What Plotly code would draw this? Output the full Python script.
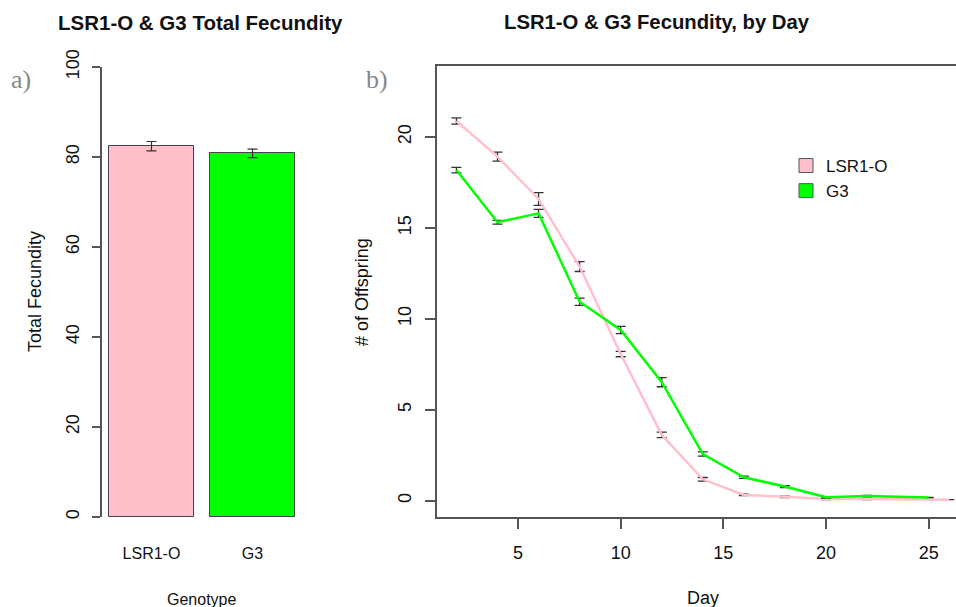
import plotly.graph_objects as go

# ---- data: panel a ----
genotypes = ["LSR1-O", "G3"]
total_fecundity = [82.4, 80.8]
total_se = [1.04, 0.93]
bar_colors = ["#FFC0CB", "#00FF00"]

# ---- data: panel b ----
days_lsr = [2, 4, 6, 8, 10, 12, 14, 16, 18, 20, 22, 24, 26]
lsr_offspring = [20.88, 18.92, 16.59, 12.87, 8.06, 3.61, 1.17, 0.31, 0.21, 0.08, 0.08, 0.07, 0.05]
lsr_se = [0.17, 0.25, 0.35, 0.27, 0.15, 0.15, 0.1, 0.04, 0.04, 0.03, 0.03, 0.0, 0.0]

days_g3 = [2, 4, 6, 8, 10, 12, 14, 16, 18, 20, 22, 24, 25]
g3_offspring = [18.18, 15.31, 15.8, 10.94, 9.38, 6.51, 2.56, 1.28, 0.77, 0.18, 0.25, 0.2, 0.17]
g3_se = [0.15, 0.1, 0.22, 0.2, 0.2, 0.25, 0.12, 0.06, 0.05, 0.04, 0.04, 0.0, 0.0]

x_ticks_b = [5, 10, 15, 20, 25]
y_ticks_b = [0, 5, 10, 15, 20]
y_ticks_a = [0, 20, 40, 60, 80, 100]

W, H = 956, 607
FONT = "Liberation Sans, Arial, sans-serif"
AXC = "#555555"

def px_x(p):
    return p / W

def px_y(p):
    return (H - p) / H

fig = go.Figure()

# panel a bars
fig.add_trace(go.Bar(
    x=genotypes, y=total_fecundity,
    marker=dict(color=bar_colors, line=dict(color="#444444", width=1)),
    width=1 / 1.2,
    error_y=dict(type="data", array=total_se, color="#333333", thickness=1.2, width=5),
    xaxis="x", yaxis="y", showlegend=False,
))

# panel b lines
fig.add_trace(go.Scatter(
    x=days_lsr, y=lsr_offspring, mode="lines",
    line=dict(color="#FFC0CB", width=2.5),
    error_y=dict(type="data", array=lsr_se, color="#333333", thickness=1.3, width=5),
    xaxis="x2", yaxis="y2", showlegend=False,
))
fig.add_trace(go.Scatter(
    x=days_g3, y=g3_offspring, mode="lines",
    line=dict(color="#00FF00", width=2.5),
    error_y=dict(type="data", array=g3_se, color="#333333", thickness=1.3, width=5),
    xaxis="x2", yaxis="y2", showlegend=False,
))

# legend entries (filled squares)
for name, col in zip(genotypes, bar_colors):
    fig.add_trace(go.Scatter(
        x=[None], y=[None], mode="markers", name=name,
        marker=dict(symbol="square", size=14, color=col, line=dict(color="#555555", width=1)),
        xaxis="x2", yaxis="y2", showlegend=True,
    ))

fig.update_layout(
    width=W, height=H,
    margin=dict(l=0, r=0, t=0, b=0, autoexpand=False),
    paper_bgcolor="white", plot_bgcolor="white",
    font=dict(family=FONT, color="#111111", size=16),
    bargap=0,
    xaxis=dict(
        domain=[px_x(102), px_x(302)], range=[-0.49, 1.49], automargin=False,
        showline=False, showgrid=False, zeroline=False, ticks="",
        tickfont=dict(size=16), ticklabelstandoff=25,
    ),
    yaxis=dict(
        domain=[px_y(517), px_y(67)], range=[0, 100], automargin=False,
        tickvals=y_ticks_a, showline=True, linecolor=AXC, linewidth=1.5,
        ticks="outside", ticklen=8, tickcolor=AXC, tickwidth=1.5,
        showgrid=False, zeroline=False, tickangle=-90,
        tickfont=dict(size=18), ticklabelstandoff=6,
    ),
    xaxis2=dict(
        domain=[px_x(436.7), 1.0], range=[1.04, 26.33], automargin=False,
        tickvals=x_ticks_b, showline=True, mirror=True, linecolor=AXC, linewidth=1.5,
        ticks="outside", ticklen=10, tickcolor=AXC, tickwidth=1.5,
        showgrid=False, zeroline=False, anchor="y2",
        tickfont=dict(size=18), ticklabelstandoff=8,
    ),
    yaxis2=dict(
        domain=[px_y(517.3), px_y(65.7)], range=[-0.92, 23.92], automargin=False,
        tickvals=y_ticks_b, showline=True, linecolor=AXC, linewidth=1.5,
        ticks="outside", ticklen=10, tickcolor=AXC, tickwidth=1.5,
        showgrid=False, zeroline=False, tickangle=-90, anchor="x2",
        tickfont=dict(size=18), ticklabelstandoff=7,
    ),
    legend=dict(
        x=px_x(786), y=px_y(148), xanchor="left", yanchor="top",
        bgcolor="rgba(0,0,0,0)", font=dict(size=17),
        tracegroupgap=0, itemwidth=30,
    ),
)

ann = [
    dict(text="<b>LSR1-O & G3 Total Fecundity</b>", x=px_x(200), y=px_y(22), size=20.5),
    dict(text="<b>LSR1-O & G3 Fecundity, by Day</b>", x=px_x(657), y=px_y(22), size=20.3),
    dict(text="Genotype", x=px_x(201), y=px_y(599), size=16),
    dict(text="Day", x=px_x(703), y=px_y(598), size=18),
]
for a in ann:
    fig.add_annotation(text=a["text"], x=a["x"], y=a["y"], xref="paper", yref="paper",
                       xanchor="center", yanchor="middle", showarrow=False,
                       font=dict(size=a["size"], family=FONT, color="#111111"))

fig.add_annotation(text="Total Fecundity", x=px_x(35), y=px_y(292), xref="paper", yref="paper",
                   xanchor="center", yanchor="middle", showarrow=False, textangle=-90,
                   font=dict(size=18, family=FONT, color="#111111"))
fig.add_annotation(text="# of Offspring", x=px_x(362), y=px_y(292), xref="paper", yref="paper",
                   xanchor="center", yanchor="middle", showarrow=False, textangle=-90,
                   font=dict(size=18, family=FONT, color="#111111"))

for lab, xx, yy in [("a)", 21, 80), ("b)", 377, 80)]:
    fig.add_annotation(text=lab, x=px_x(xx), y=px_y(yy), xref="paper", yref="paper",
                       xanchor="center", yanchor="middle", showarrow=False,
                       font=dict(size=26, family="Liberation Serif, Times New Roman, serif", color="#888888"))

fig.write_html("out.html", config={"displayModeBar": False},
               post_script="document.body.style.margin='0';document.body.style.overflow='hidden';")
